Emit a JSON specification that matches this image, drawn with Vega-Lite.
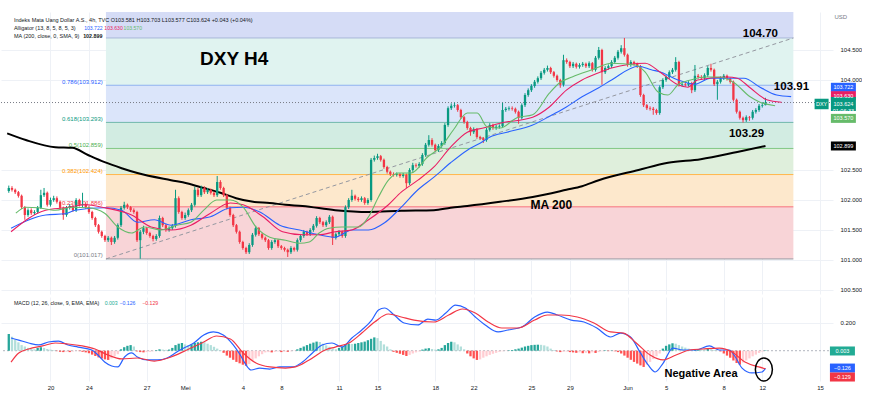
{
"$schema": "https://vega.github.io/schema/vega-lite/v6.json",
"background": "white",
"padding": {"left": 0, "top": 12, "right": 0, "bottom": 0},
"spacing": 3,
"bounds": "flush",
"config": {"view": {"stroke": null}, "font": "Liberation Sans"},
"datasets": {
"fib": [
{"lvl":"0","p":101.017,"next":101.886,"lab":"0(101.017)"},
{"lvl":"0.236","p":101.886,"next":102.424,"lab":"0.236(101.886)"},
{"lvl":"0.382","p":102.424,"next":102.859,"lab":"0.382(102.424)"},
{"lvl":"0.5","p":102.859,"next":103.293,"lab":"0.5(102.859)"},
{"lvl":"0.618","p":103.293,"next":103.912,"lab":"0.618(103.293)"},
{"lvl":"0.786","p":103.912,"next":104.7,"lab":"0.786(103.912)"},
{"lvl":"1","p":104.7,"next":106.976,"lab":""}
],
"trend": [{"i":17.3,"p":101.017},{"i":231.7,"p":104.7}],
"candles": [
{"i":-13,"o":102.15,"h":102.24,"l":102.12,"c":102.2,"m":0.12},
{"i":-12,"o":102.2,"h":102.23,"l":102.14,"c":102.17,"m":0.1},
{"i":-11,"o":102.17,"h":102.19,"l":102.1,"c":102.13,"m":0.08},
{"i":-10,"o":102.13,"h":102.15,"l":102.04,"c":102.07,"m":0.06},
{"i":-9,"o":102.07,"h":102.09,"l":101.85,"c":101.88,"m":0.04},
{"i":-8,"o":101.88,"h":101.9,"l":101.67,"c":101.75,"m":0.03},
{"i":-7,"o":101.75,"h":101.86,"l":101.72,"c":101.83,"m":0.02},
{"i":-6,"o":101.83,"h":101.86,"l":101.75,"c":101.78,"m":0.015},
{"i":-5,"o":101.78,"h":101.83,"l":101.75,"c":101.8,"m":0.01},
{"i":-4,"o":101.8,"h":101.9,"l":101.77,"c":101.87,"m":0.02},
{"i":-3,"o":101.87,"h":102.17,"l":101.85,"c":102.08,"m":0.025},
{"i":-2,"o":102.08,"h":102.2,"l":102.05,"c":102.12,"m":0.02},
{"i":-1,"o":102.12,"h":102.14,"l":101.89,"c":101.92,"m":0.012},
{"i":0,"o":101.92,"h":102.04,"l":101.89,"c":102.0,"m":0.008},
{"i":1,"o":102.0,"h":102.07,"l":101.97,"c":102.03,"m":0.004},
{"i":2,"o":102.03,"h":102.06,"l":101.94,"c":101.97,"m":-0.003},
{"i":3,"o":101.97,"h":101.99,"l":101.84,"c":101.87,"m":-0.008},
{"i":4,"o":101.87,"h":101.89,"l":101.67,"c":101.75,"m":-0.01},
{"i":5,"o":101.75,"h":101.9,"l":101.72,"c":101.87,"m":-0.008},
{"i":6,"o":101.87,"h":101.93,"l":101.84,"c":101.9,"m":-0.01},
{"i":7,"o":101.9,"h":101.92,"l":101.8,"c":101.83,"m":-0.006},
{"i":8,"o":101.83,"h":102.03,"l":101.8,"c":102.0,"m":-0.002},
{"i":9,"o":102.0,"h":102.02,"l":101.89,"c":101.92,"m":-0.003},
{"i":10,"o":101.92,"h":102.12,"l":101.88,"c":101.93,"m":-0.008},
{"i":11,"o":101.93,"h":101.96,"l":101.85,"c":101.88,"m":-0.012},
{"i":12,"o":101.88,"h":101.9,"l":101.77,"c":101.8,"m":-0.018},
{"i":13,"o":101.8,"h":101.82,"l":101.67,"c":101.7,"m":-0.028},
{"i":14,"o":101.7,"h":101.72,"l":101.55,"c":101.58,"m":-0.038},
{"i":15,"o":101.58,"h":101.6,"l":101.44,"c":101.47,"m":-0.048},
{"i":16,"o":101.47,"h":101.49,"l":101.37,"c":101.4,"m":-0.056},
{"i":17,"o":101.4,"h":101.42,"l":101.3,"c":101.33,"m":-0.062},
{"i":18,"o":101.33,"h":101.4,"l":101.3,"c":101.37,"m":-0.066},
{"i":19,"o":101.37,"h":101.39,"l":101.25,"c":101.3,"m":-0.055},
{"i":20,"o":101.3,"h":101.4,"l":101.27,"c":101.37,"m":-0.04},
{"i":21,"o":101.37,"h":101.61,"l":101.34,"c":101.58,"m":-0.025},
{"i":22,"o":101.58,"h":101.9,"l":101.55,"c":101.87,"m":0.01},
{"i":23,"o":101.87,"h":101.97,"l":101.84,"c":101.92,"m":0.025},
{"i":24,"o":101.92,"h":101.94,"l":101.85,"c":101.88,"m":0.035},
{"i":25,"o":101.88,"h":101.9,"l":101.8,"c":101.83,"m":0.04},
{"i":26,"o":101.83,"h":101.86,"l":101.77,"c":101.8,"m":0.03},
{"i":27,"o":101.8,"h":101.82,"l":101.3,"c":101.33,"m":-0.005},
{"i":28,"o":101.33,"h":101.5,"l":101.02,"c":101.47,"m":-0.01},
{"i":29,"o":101.47,"h":101.57,"l":101.43,"c":101.53,"m":-0.012},
{"i":30,"o":101.53,"h":101.55,"l":101.42,"c":101.45,"m":-0.01},
{"i":31,"o":101.45,"h":101.47,"l":101.37,"c":101.4,"m":-0.008},
{"i":32,"o":101.4,"h":101.42,"l":101.31,"c":101.35,"m":-0.004},
{"i":33,"o":101.35,"h":101.43,"l":101.32,"c":101.4,"m":0.004},
{"i":34,"o":101.4,"h":101.74,"l":101.37,"c":101.7,"m":0.01},
{"i":35,"o":101.7,"h":101.72,"l":101.55,"c":101.58,"m":0.008},
{"i":36,"o":101.58,"h":101.6,"l":101.47,"c":101.5,"m":0.006},
{"i":37,"o":101.5,"h":101.56,"l":101.47,"c":101.53,"m":0.008},
{"i":38,"o":101.53,"h":101.6,"l":101.5,"c":101.57,"m":0.02},
{"i":39,"o":101.57,"h":102.17,"l":101.54,"c":102.03,"m":0.04},
{"i":40,"o":102.03,"h":102.06,"l":101.77,"c":101.8,"m":0.05},
{"i":41,"o":101.8,"h":101.82,"l":101.67,"c":101.7,"m":0.055},
{"i":42,"o":101.7,"h":101.79,"l":101.67,"c":101.75,"m":0.045},
{"i":43,"o":101.75,"h":101.86,"l":101.72,"c":101.83,"m":0.04},
{"i":44,"o":101.83,"h":101.95,"l":101.8,"c":101.92,"m":0.045},
{"i":45,"o":101.92,"h":102.22,"l":101.89,"c":102.17,"m":0.055},
{"i":46,"o":102.17,"h":102.2,"l":102.05,"c":102.08,"m":0.06},
{"i":47,"o":102.08,"h":102.24,"l":102.05,"c":102.2,"m":0.064},
{"i":48,"o":102.2,"h":102.23,"l":102.1,"c":102.13,"m":0.06},
{"i":49,"o":102.13,"h":102.2,"l":102.1,"c":102.17,"m":0.05},
{"i":50,"o":102.17,"h":102.19,"l":102.09,"c":102.12,"m":0.04},
{"i":51,"o":102.12,"h":102.14,"l":102.05,"c":102.08,"m":0.028},
{"i":52,"o":102.08,"h":102.4,"l":102.05,"c":102.3,"m":0.015},
{"i":53,"o":102.3,"h":102.33,"l":102.17,"c":102.2,"m":0.005},
{"i":54,"o":102.2,"h":102.22,"l":102.05,"c":102.08,"m":-0.015},
{"i":55,"o":102.08,"h":102.1,"l":101.84,"c":101.87,"m":-0.035},
{"i":56,"o":101.87,"h":101.89,"l":101.72,"c":101.75,"m":-0.05},
{"i":57,"o":101.75,"h":101.77,"l":101.55,"c":101.58,"m":-0.065},
{"i":58,"o":101.58,"h":101.6,"l":101.44,"c":101.47,"m":-0.08},
{"i":59,"o":101.47,"h":101.49,"l":101.27,"c":101.3,"m":-0.09},
{"i":60,"o":101.3,"h":101.32,"l":101.17,"c":101.2,"m":-0.1},
{"i":61,"o":101.2,"h":101.22,"l":101.1,"c":101.13,"m":-0.108},
{"i":62,"o":101.13,"h":101.28,"l":101.1,"c":101.25,"m":-0.095},
{"i":63,"o":101.25,"h":101.45,"l":101.22,"c":101.42,"m":-0.075},
{"i":64,"o":101.42,"h":101.57,"l":101.39,"c":101.53,"m":-0.055},
{"i":65,"o":101.53,"h":101.55,"l":101.4,"c":101.43,"m":-0.04},
{"i":66,"o":101.43,"h":101.45,"l":101.34,"c":101.37,"m":-0.025},
{"i":67,"o":101.37,"h":101.39,"l":101.3,"c":101.33,"m":-0.012},
{"i":68,"o":101.33,"h":101.35,"l":101.17,"c":101.2,"m":-0.01},
{"i":69,"o":101.2,"h":101.33,"l":101.17,"c":101.3,"m":-0.012},
{"i":70,"o":101.3,"h":101.36,"l":101.27,"c":101.33,"m":-0.008},
{"i":71,"o":101.33,"h":101.35,"l":101.2,"c":101.23,"m":-0.005},
{"i":72,"o":101.23,"h":101.25,"l":101.17,"c":101.2,"m":-0.01},
{"i":73,"o":101.2,"h":101.22,"l":101.14,"c":101.17,"m":-0.006},
{"i":74,"o":101.17,"h":101.19,"l":101.05,"c":101.13,"m":-0.008},
{"i":75,"o":101.13,"h":101.23,"l":101.1,"c":101.2,"m":-0.004},
{"i":76,"o":101.2,"h":101.22,"l":101.14,"c":101.17,"m":-0.002},
{"i":77,"o":101.17,"h":101.36,"l":101.14,"c":101.33,"m":0.01},
{"i":78,"o":101.33,"h":101.43,"l":101.3,"c":101.4,"m":0.02},
{"i":79,"o":101.4,"h":101.5,"l":101.37,"c":101.47,"m":0.03},
{"i":80,"o":101.47,"h":101.49,"l":101.4,"c":101.43,"m":0.04},
{"i":81,"o":101.43,"h":101.53,"l":101.4,"c":101.5,"m":0.05},
{"i":82,"o":101.5,"h":101.6,"l":101.47,"c":101.57,"m":0.058},
{"i":83,"o":101.57,"h":101.73,"l":101.54,"c":101.7,"m":0.065},
{"i":84,"o":101.7,"h":101.72,"l":101.6,"c":101.63,"m":0.062},
{"i":85,"o":101.63,"h":101.65,"l":101.55,"c":101.58,"m":0.05},
{"i":86,"o":101.58,"h":101.66,"l":101.55,"c":101.63,"m":0.038},
{"i":87,"o":101.63,"h":101.75,"l":101.6,"c":101.72,"m":0.028},
{"i":88,"o":101.72,"h":101.74,"l":101.25,"c":101.37,"m":0.015},
{"i":89,"o":101.37,"h":101.46,"l":101.34,"c":101.43,"m":0.01},
{"i":90,"o":101.43,"h":101.5,"l":101.4,"c":101.47,"m":0.02},
{"i":91,"o":101.47,"h":101.49,"l":101.37,"c":101.4,"m":0.03},
{"i":92,"o":101.4,"h":101.91,"l":101.37,"c":101.88,"m":0.045},
{"i":93,"o":101.88,"h":102.03,"l":101.85,"c":102.0,"m":0.05},
{"i":94,"o":102.0,"h":102.17,"l":101.97,"c":102.07,"m":0.048},
{"i":95,"o":102.07,"h":102.09,"l":101.99,"c":102.02,"m":0.05},
{"i":96,"o":102.02,"h":102.05,"l":101.97,"c":102.0,"m":0.055},
{"i":97,"o":102.0,"h":102.06,"l":101.97,"c":102.03,"m":0.06},
{"i":98,"o":102.03,"h":102.05,"l":101.92,"c":101.95,"m":0.065},
{"i":99,"o":101.95,"h":102.03,"l":101.92,"c":102.0,"m":0.075},
{"i":100,"o":102.0,"h":102.7,"l":101.97,"c":102.67,"m":0.085},
{"i":101,"o":102.67,"h":102.74,"l":102.64,"c":102.7,"m":0.095},
{"i":102,"o":102.7,"h":102.77,"l":102.67,"c":102.73,"m":0.09},
{"i":103,"o":102.73,"h":102.75,"l":102.64,"c":102.67,"m":0.07},
{"i":104,"o":102.67,"h":102.69,"l":102.52,"c":102.55,"m":0.045},
{"i":105,"o":102.55,"h":102.57,"l":102.44,"c":102.47,"m":0.03},
{"i":106,"o":102.47,"h":102.49,"l":102.4,"c":102.43,"m":0.01},
{"i":107,"o":102.43,"h":102.46,"l":102.39,"c":102.42,"m":-0.008},
{"i":108,"o":102.42,"h":102.46,"l":102.39,"c":102.43,"m":-0.015},
{"i":109,"o":102.43,"h":102.45,"l":102.37,"c":102.4,"m":-0.022},
{"i":110,"o":102.4,"h":102.45,"l":102.37,"c":102.42,"m":-0.03},
{"i":111,"o":102.42,"h":102.44,"l":102.2,"c":102.28,"m":-0.038},
{"i":112,"o":102.28,"h":102.53,"l":102.25,"c":102.5,"m":-0.03},
{"i":113,"o":102.5,"h":102.62,"l":102.47,"c":102.58,"m":-0.02},
{"i":114,"o":102.58,"h":102.61,"l":102.54,"c":102.57,"m":-0.012},
{"i":115,"o":102.57,"h":102.63,"l":102.54,"c":102.6,"m":-0.005},
{"i":116,"o":102.6,"h":102.78,"l":102.57,"c":102.75,"m":0.008},
{"i":117,"o":102.75,"h":102.95,"l":102.72,"c":102.92,"m":0.015},
{"i":118,"o":102.92,"h":103.08,"l":102.89,"c":103.0,"m":0.018},
{"i":119,"o":103.0,"h":103.03,"l":102.89,"c":102.92,"m":0.012},
{"i":120,"o":102.92,"h":102.94,"l":102.8,"c":102.83,"m":0.008},
{"i":121,"o":102.83,"h":102.93,"l":102.8,"c":102.9,"m":0.01},
{"i":122,"o":102.9,"h":102.98,"l":102.87,"c":102.95,"m":0.02},
{"i":123,"o":102.95,"h":103.28,"l":102.92,"c":103.25,"m":0.04},
{"i":124,"o":103.25,"h":103.56,"l":103.22,"c":103.53,"m":0.055},
{"i":125,"o":103.53,"h":103.61,"l":103.5,"c":103.57,"m":0.064},
{"i":126,"o":103.57,"h":103.62,"l":103.54,"c":103.58,"m":0.06},
{"i":127,"o":103.58,"h":103.6,"l":103.47,"c":103.5,"m":0.045},
{"i":128,"o":103.5,"h":103.52,"l":103.35,"c":103.38,"m":0.03},
{"i":129,"o":103.38,"h":103.4,"l":103.27,"c":103.3,"m":0.01},
{"i":130,"o":103.3,"h":103.32,"l":103.17,"c":103.2,"m":-0.02},
{"i":131,"o":103.2,"h":103.22,"l":103.07,"c":103.13,"m":-0.04},
{"i":132,"o":103.13,"h":103.21,"l":103.1,"c":103.18,"m":-0.055},
{"i":133,"o":103.18,"h":103.2,"l":103.02,"c":103.05,"m":-0.066},
{"i":134,"o":103.05,"h":103.07,"l":103.0,"c":103.03,"m":-0.062},
{"i":135,"o":103.03,"h":103.05,"l":102.95,"c":103.0,"m":-0.05},
{"i":136,"o":103.0,"h":103.2,"l":102.97,"c":103.17,"m":-0.04},
{"i":137,"o":103.17,"h":103.28,"l":103.14,"c":103.25,"m":-0.03},
{"i":138,"o":103.25,"h":103.27,"l":103.17,"c":103.2,"m":-0.022},
{"i":139,"o":103.2,"h":103.25,"l":103.17,"c":103.22,"m":-0.015},
{"i":140,"o":103.22,"h":103.26,"l":103.19,"c":103.23,"m":-0.008},
{"i":141,"o":103.23,"h":103.62,"l":103.2,"c":103.5,"m":-0.004},
{"i":142,"o":103.5,"h":103.55,"l":103.47,"c":103.52,"m":-0.002},
{"i":143,"o":103.52,"h":103.56,"l":103.49,"c":103.53,"m":0.003},
{"i":144,"o":103.53,"h":103.56,"l":103.49,"c":103.52,"m":0.005},
{"i":145,"o":103.52,"h":103.54,"l":103.44,"c":103.47,"m":0.01},
{"i":146,"o":103.47,"h":103.49,"l":103.27,"c":103.37,"m":0.015},
{"i":147,"o":103.37,"h":103.61,"l":103.34,"c":103.58,"m":0.022},
{"i":148,"o":103.58,"h":103.78,"l":103.55,"c":103.75,"m":0.03},
{"i":149,"o":103.75,"h":103.86,"l":103.72,"c":103.83,"m":0.035},
{"i":150,"o":103.83,"h":103.93,"l":103.8,"c":103.9,"m":0.04},
{"i":151,"o":103.9,"h":104.0,"l":103.87,"c":103.97,"m":0.042},
{"i":152,"o":103.97,"h":104.06,"l":103.94,"c":104.03,"m":0.043},
{"i":153,"o":104.03,"h":104.15,"l":104.0,"c":104.12,"m":0.042},
{"i":154,"o":104.12,"h":104.2,"l":104.09,"c":104.17,"m":0.038},
{"i":155,"o":104.17,"h":104.24,"l":104.14,"c":104.2,"m":0.03},
{"i":156,"o":104.2,"h":104.22,"l":104.1,"c":104.13,"m":0.015},
{"i":157,"o":104.13,"h":104.15,"l":104.04,"c":104.07,"m":0.005},
{"i":158,"o":104.07,"h":104.09,"l":103.97,"c":104.0,"m":-0.005},
{"i":159,"o":104.0,"h":104.02,"l":103.87,"c":103.92,"m":-0.01},
{"i":160,"o":103.92,"h":104.42,"l":103.89,"c":104.33,"m":-0.008},
{"i":161,"o":104.33,"h":104.36,"l":104.27,"c":104.3,"m":-0.006},
{"i":162,"o":104.3,"h":104.32,"l":104.2,"c":104.23,"m":-0.01},
{"i":163,"o":104.23,"h":104.3,"l":104.2,"c":104.27,"m":-0.012},
{"i":164,"o":104.27,"h":104.29,"l":104.19,"c":104.22,"m":-0.015},
{"i":165,"o":104.22,"h":104.28,"l":104.19,"c":104.25,"m":-0.012},
{"i":166,"o":104.25,"h":104.3,"l":104.22,"c":104.27,"m":-0.018},
{"i":167,"o":104.27,"h":104.29,"l":104.2,"c":104.23,"m":-0.015},
{"i":168,"o":104.23,"h":104.31,"l":104.2,"c":104.28,"m":-0.019},
{"i":169,"o":104.28,"h":104.3,"l":104.14,"c":104.17,"m":-0.012},
{"i":170,"o":104.17,"h":104.4,"l":104.14,"c":104.37,"m":-0.016},
{"i":171,"o":104.37,"h":104.55,"l":104.34,"c":104.5,"m":-0.01},
{"i":172,"o":104.5,"h":104.52,"l":103.92,"c":104.13,"m":-0.004},
{"i":173,"o":104.13,"h":104.23,"l":104.1,"c":104.2,"m":0.003},
{"i":174,"o":104.2,"h":104.26,"l":104.17,"c":104.23,"m":-0.003},
{"i":175,"o":104.23,"h":104.33,"l":104.2,"c":104.3,"m":0.002},
{"i":176,"o":104.3,"h":104.4,"l":104.27,"c":104.37,"m":-0.004},
{"i":177,"o":104.37,"h":104.5,"l":104.34,"c":104.47,"m":-0.01},
{"i":178,"o":104.47,"h":104.58,"l":104.44,"c":104.53,"m":-0.02},
{"i":179,"o":104.53,"h":104.7,"l":104.39,"c":104.42,"m":-0.035},
{"i":180,"o":104.42,"h":104.44,"l":104.22,"c":104.25,"m":-0.05},
{"i":181,"o":104.25,"h":104.33,"l":104.22,"c":104.3,"m":-0.065},
{"i":182,"o":104.3,"h":104.32,"l":104.24,"c":104.27,"m":-0.08},
{"i":183,"o":104.27,"h":104.29,"l":104.2,"c":104.23,"m":-0.092},
{"i":184,"o":104.23,"h":104.25,"l":103.72,"c":103.75,"m":-0.105},
{"i":185,"o":103.75,"h":103.77,"l":103.55,"c":103.58,"m":-0.116},
{"i":186,"o":103.58,"h":103.6,"l":103.5,"c":103.53,"m":-0.1},
{"i":187,"o":103.53,"h":103.56,"l":103.49,"c":103.52,"m":-0.08},
{"i":188,"o":103.52,"h":103.55,"l":103.42,"c":103.5,"m":-0.06},
{"i":189,"o":103.5,"h":103.52,"l":103.42,"c":103.45,"m":-0.04},
{"i":190,"o":103.45,"h":103.91,"l":103.42,"c":103.88,"m":-0.02},
{"i":191,"o":103.88,"h":104.03,"l":103.85,"c":104.0,"m":0.015},
{"i":192,"o":104.0,"h":104.08,"l":103.97,"c":104.05,"m":0.035},
{"i":193,"o":104.05,"h":104.16,"l":104.02,"c":104.13,"m":0.045},
{"i":194,"o":104.13,"h":104.2,"l":104.1,"c":104.17,"m":0.053},
{"i":195,"o":104.17,"h":104.38,"l":104.14,"c":104.3,"m":0.05},
{"i":196,"o":104.3,"h":104.32,"l":103.89,"c":103.92,"m":0.04},
{"i":197,"o":103.92,"h":103.96,"l":103.89,"c":103.93,"m":0.03},
{"i":198,"o":103.93,"h":103.96,"l":103.89,"c":103.92,"m":0.022},
{"i":199,"o":103.92,"h":103.98,"l":103.89,"c":103.95,"m":0.015},
{"i":200,"o":103.95,"h":103.97,"l":103.78,"c":103.83,"m":0.008},
{"i":201,"o":103.83,"h":104.25,"l":103.8,"c":104.07,"m":0.01},
{"i":202,"o":104.07,"h":104.1,"l":104.02,"c":104.05,"m":0.012},
{"i":203,"o":104.05,"h":104.08,"l":104.0,"c":104.03,"m":0.01},
{"i":204,"o":104.03,"h":104.11,"l":104.0,"c":104.08,"m":0.008},
{"i":205,"o":104.08,"h":104.23,"l":104.05,"c":104.2,"m":0.012},
{"i":206,"o":104.2,"h":104.27,"l":104.14,"c":104.17,"m":0.01},
{"i":207,"o":104.17,"h":104.19,"l":103.9,"c":103.93,"m":0.005},
{"i":208,"o":103.93,"h":104.0,"l":103.67,"c":103.97,"m":0.002},
{"i":209,"o":103.97,"h":104.06,"l":103.94,"c":104.03,"m":-0.005},
{"i":210,"o":104.03,"h":104.1,"l":104.0,"c":104.07,"m":-0.02},
{"i":211,"o":104.07,"h":104.09,"l":103.99,"c":104.02,"m":-0.035},
{"i":212,"o":104.02,"h":104.04,"l":103.94,"c":103.97,"m":-0.05},
{"i":213,"o":103.97,"h":103.99,"l":103.64,"c":103.67,"m":-0.07},
{"i":214,"o":103.67,"h":103.69,"l":103.44,"c":103.47,"m":-0.088},
{"i":215,"o":103.47,"h":103.49,"l":103.34,"c":103.37,"m":-0.1},
{"i":216,"o":103.37,"h":103.39,"l":103.29,"c":103.33,"m":-0.085},
{"i":217,"o":103.33,"h":103.41,"l":103.3,"c":103.38,"m":-0.07},
{"i":218,"o":103.38,"h":103.4,"l":103.32,"c":103.37,"m":-0.055},
{"i":219,"o":103.37,"h":103.5,"l":103.34,"c":103.47,"m":-0.04},
{"i":220,"o":103.47,"h":103.53,"l":103.44,"c":103.5,"m":-0.028},
{"i":221,"o":103.5,"h":103.6,"l":103.47,"c":103.57,"m":-0.016},
{"i":222,"o":103.57,"h":103.63,"l":103.54,"c":103.581,"m":-0.006},
{"i":223,"o":103.581,"h":103.703,"l":103.577,"c":103.624,"m":0.003}
],
"jaw": [{"i":-12.3,"v":101.53},{"i":-1.5,"v":101.75},{"i":4.6,"v":101.77},{"i":7.7,"v":101.83},{"i":16.9,"v":101.87},{"i":22.2,"v":101.83},{"i":27.1,"v":101.63},{"i":32.4,"v":101.67},{"i":37.6,"v":101.58},{"i":43.8,"v":101.67},{"i":49.9,"v":101.72},{"i":56.1,"v":101.87},{"i":60.1,"v":101.88},{"i":65.3,"v":101.8},{"i":71.5,"v":101.58},{"i":77.7,"v":101.5},{"i":83.8,"v":101.42},{"i":88.8,"v":101.38},{"i":94,"v":101.5},{"i":99.2,"v":101.5},{"i":104.2,"v":101.62},{"i":109.4,"v":101.88},{"i":114.6,"v":102.17},{"i":119.6,"v":102.38},{"i":124.8,"v":102.62},{"i":130,"v":102.83},{"i":134.1,"v":102.95},{"i":137.1,"v":103.05},{"i":142.4,"v":103.13},{"i":150.4,"v":103.25},{"i":156.5,"v":103.42},{"i":160.9,"v":103.55},{"i":165.8,"v":103.72},{"i":171,"v":103.87},{"i":175,"v":104.0},{"i":183.4,"v":104.23},{"i":187.4,"v":104.17},{"i":190.4,"v":104.13},{"i":195.7,"v":104.0},{"i":200.9,"v":103.93},{"i":205.9,"v":104.03},{"i":216.3,"v":104.03},{"i":221.3,"v":103.88},{"i":226.5,"v":103.75},{"i":231,"v":103.722}],
"teeth": [{"i":-12.3,"v":101.47},{"i":-1.5,"v":101.83},{"i":4.6,"v":101.87},{"i":10.8,"v":101.92},{"i":16.9,"v":101.87},{"i":25.3,"v":101.75},{"i":31.4,"v":101.55},{"i":37.6,"v":101.5},{"i":43.8,"v":101.58},{"i":49.9,"v":101.78},{"i":56.1,"v":101.95},{"i":60.1,"v":101.92},{"i":66.3,"v":101.72},{"i":72.4,"v":101.47},{"i":78.6,"v":101.42},{"i":83.8,"v":101.42},{"i":88.8,"v":101.47},{"i":94,"v":101.5},{"i":99.2,"v":101.67},{"i":105.4,"v":101.92},{"i":109.4,"v":102.13},{"i":114.6,"v":102.33},{"i":119.6,"v":102.55},{"i":124.8,"v":102.88},{"i":130,"v":103.13},{"i":135,"v":103.2},{"i":140.2,"v":103.28},{"i":150.4,"v":103.38},{"i":155.6,"v":103.55},{"i":160.9,"v":103.83},{"i":165.8,"v":104.0},{"i":171,"v":104.12},{"i":175,"v":104.2},{"i":185.5,"v":104.28},{"i":190.4,"v":104.12},{"i":195.7,"v":103.92},{"i":198.8,"v":103.88},{"i":201.8,"v":104.0},{"i":211.1,"v":104.05},{"i":214.2,"v":104.03},{"i":218.2,"v":103.87},{"i":223.4,"v":103.67},{"i":228,"v":103.63}],
"lips": [{"i":-10.8,"v":101.78},{"i":-7.7,"v":101.88},{"i":-3.7,"v":101.87},{"i":1.5,"v":101.83},{"i":6.8,"v":101.88},{"i":11.7,"v":101.87},{"i":16.9,"v":101.78},{"i":21,"v":101.55},{"i":25.3,"v":101.45},{"i":29.3,"v":101.55},{"i":34.5,"v":101.5},{"i":39.4,"v":101.58},{"i":43.8,"v":101.63},{"i":47.8,"v":101.83},{"i":51.8,"v":102.0},{"i":56.1,"v":102.0},{"i":60.1,"v":101.88},{"i":64.1,"v":101.55},{"i":68.4,"v":101.38},{"i":73.3,"v":101.33},{"i":77.7,"v":101.28},{"i":80.7,"v":101.3},{"i":83.8,"v":101.45},{"i":86.9,"v":101.53},{"i":90.9,"v":101.55},{"i":96.1,"v":101.55},{"i":99.2,"v":101.72},{"i":102.3,"v":102.05},{"i":105.4,"v":102.33},{"i":108.5,"v":102.45},{"i":112.5,"v":102.45},{"i":117.7,"v":102.72},{"i":121.7,"v":102.88},{"i":125.7,"v":103.17},{"i":130,"v":103.45},{"i":133.1,"v":103.45},{"i":136.2,"v":103.22},{"i":140.2,"v":103.2},{"i":145.5,"v":103.37},{"i":150.4,"v":103.42},{"i":155.6,"v":103.78},{"i":158.7,"v":103.95},{"i":162.7,"v":104.05},{"i":168.9,"v":104.17},{"i":175,"v":104.28},{"i":182.4,"v":104.25},{"i":185.5,"v":104.13},{"i":189.5,"v":103.8},{"i":192.6,"v":103.75},{"i":195.7,"v":103.92},{"i":199.7,"v":104.0},{"i":204,"v":104.05},{"i":208.9,"v":104.05},{"i":213.3,"v":103.95},{"i":218.2,"v":103.72},{"i":221.3,"v":103.63},{"i":226,"v":103.57}],
"ma": [{"i":-13.5,"v":103.11},{"i":-7.7,"v":103.0},{"i":1.5,"v":102.88},{"i":6.8,"v":102.87},{"i":11.7,"v":102.75},{"i":16.9,"v":102.63},{"i":22.2,"v":102.53},{"i":27.1,"v":102.45},{"i":37.6,"v":102.33},{"i":42.5,"v":102.28},{"i":47.8,"v":102.2},{"i":53,"v":102.12},{"i":57.9,"v":102.03},{"i":63.2,"v":101.97},{"i":68.4,"v":101.95},{"i":73.3,"v":101.92},{"i":78.6,"v":101.9},{"i":88.8,"v":101.83},{"i":99.2,"v":101.8},{"i":109.4,"v":101.82},{"i":119.6,"v":101.83},{"i":124.8,"v":101.87},{"i":130,"v":101.9},{"i":140.2,"v":101.97},{"i":150.4,"v":102.05},{"i":160.9,"v":102.17},{"i":165.8,"v":102.23},{"i":171,"v":102.33},{"i":183.4,"v":102.5},{"i":192.6,"v":102.62},{"i":202.8,"v":102.68},{"i":214.2,"v":102.8},{"i":223,"v":102.899}],
"macd": [{"i":-12.3,"v":0.091},{"i":-9.9,"v":0.076},{"i":-6.8,"v":0.055},{"i":-3.7,"v":0.041},{"i":-0.6,"v":0.062},{"i":2.5,"v":0.069},{"i":5.5,"v":0.041},{"i":8.6,"v":0.026},{"i":12.9,"v":0.005},{"i":14.8,"v":-0.031},{"i":16.9,"v":-0.081},{"i":19.1,"v":-0.109},{"i":21,"v":-0.116},{"i":23.1,"v":-0.045},{"i":25.3,"v":-0.016},{"i":27.1,"v":-0.045},{"i":30.2,"v":-0.066},{"i":33.3,"v":-0.066},{"i":36.4,"v":-0.052},{"i":39.4,"v":-0.009},{"i":41.6,"v":0.019},{"i":44.7,"v":0.055},{"i":47.8,"v":0.112},{"i":50.8,"v":0.134},{"i":53.9,"v":0.112},{"i":57,"v":0.041},{"i":59.2,"v":-0.031},{"i":61,"v":-0.102},{"i":62.6,"v":-0.138},{"i":65.3,"v":-0.124},{"i":68.4,"v":-0.131},{"i":71.5,"v":-0.116},{"i":75.5,"v":-0.116},{"i":78.6,"v":-0.081},{"i":81.7,"v":-0.016},{"i":84.7,"v":0.041},{"i":87.8,"v":0.055},{"i":90.9,"v":0.026},{"i":94,"v":0.091},{"i":97.1,"v":0.148},{"i":100.2,"v":0.219},{"i":102.3,"v":0.291},{"i":104.2,"v":0.305},{"i":107.2,"v":0.255},{"i":110.3,"v":0.198},{"i":114.6,"v":0.184},{"i":117.7,"v":0.226},{"i":120.2,"v":0.219},{"i":123.3,"v":0.269},{"i":126.3,"v":0.326},{"i":129.4,"v":0.305},{"i":132.5,"v":0.241},{"i":135.6,"v":0.184},{"i":139.6,"v":0.134},{"i":142.7,"v":0.148},{"i":147,"v":0.169},{"i":151,"v":0.241},{"i":155,"v":0.276},{"i":158.1,"v":0.255},{"i":162.4,"v":0.219},{"i":166.4,"v":0.205},{"i":170.4,"v":0.162},{"i":174.7,"v":0.098},{"i":177.8,"v":0.126},{"i":180.9,"v":0.098},{"i":184,"v":-0.016},{"i":186.4,"v":-0.102},{"i":188.6,"v":-0.152},{"i":191.1,"v":-0.088},{"i":194.1,"v":0.019},{"i":197.2,"v":0.005},{"i":201.2,"v":0.005},{"i":205.5,"v":0.034},{"i":208.6,"v":0.005},{"i":211.7,"v":0.005},{"i":213.6,"v":-0.045},{"i":215.7,"v":-0.124},{"i":218.8,"v":-0.159},{"i":221.9,"v":-0.152},{"i":223,"v":-0.126}],
"sig": [{"i":-12.3,"v":-0.081},{"i":-9.9,"v":-0.016},{"i":-6.8,"v":0.012},{"i":-2.5,"v":0.034},{"i":1.5,"v":0.055},{"i":5.5,"v":0.048},{"i":9.9,"v":0.034},{"i":13.9,"v":0.012},{"i":17.9,"v":-0.031},{"i":22.2,"v":-0.059},{"i":27.1,"v":-0.052},{"i":32.4,"v":-0.074},{"i":37.6,"v":-0.045},{"i":42.5,"v":0.005},{"i":47.8,"v":0.062},{"i":51.8,"v":0.105},{"i":56.1,"v":0.084},{"i":60.1,"v":-0.016},{"i":64.1,"v":-0.088},{"i":68.4,"v":-0.116},{"i":73.3,"v":-0.124},{"i":76.4,"v":-0.116},{"i":80.7,"v":-0.066},{"i":85.7,"v":0.005},{"i":88.8,"v":0.026},{"i":93.1,"v":0.055},{"i":97.1,"v":0.126},{"i":101.1,"v":0.205},{"i":105.4,"v":0.262},{"i":109.4,"v":0.241},{"i":113.4,"v":0.219},{"i":119.6,"v":0.205},{"i":124.2,"v":0.255},{"i":128.5,"v":0.298},{"i":132.5,"v":0.269},{"i":136.5,"v":0.205},{"i":140.8,"v":0.162},{"i":145.8,"v":0.162},{"i":151,"v":0.219},{"i":155,"v":0.255},{"i":159.3,"v":0.255},{"i":164.3,"v":0.241},{"i":169.5,"v":0.198},{"i":174.7,"v":0.134},{"i":178.7,"v":0.126},{"i":182.7,"v":0.055},{"i":187,"v":-0.031},{"i":191.1,"v":-0.066},{"i":195.1,"v":-0.031},{"i":199.4,"v":0.005},{"i":203.4,"v":0.012},{"i":208.6,"v":0.019},{"i":212.6,"v":-0.009},{"i":216.6,"v":-0.081},{"i":220.9,"v":-0.116},{"i":223,"v":-0.129}],
"tags": [
{"t":"103.722","p":103.878,"k":"jaw"},
{"t":"103.630","p":103.738,"k":"teeth"},
{"t":"103.624","p":103.6,"k":"last"},
{"t":"01:06:33","p":103.49,"k":"timer"},
{"t":"103.570","p":103.36,"k":"lips"},
{"t":"102.899","p":102.9,"k":"ma"}
],
"mtags": [
{"t":"0.003","p":-0.002,"k":"hist"},
{"t":"−0.126","p":-0.124,"k":"macd"},
{"t":"−0.129","p":-0.188,"k":"sig"}
]
},
"vconcat": [
{
"width": 832, "height": 282,
"layer": [
{"data": {"name": "fib"}, "mark": {"type": "rect", "clip": true},
 "encoding": {
  "x": {"datum": 17.3, "type": "quantitative", "scale": {"domain": [-13.87, 242.5], "nice": false, "zero": false}},
  "x2": {"datum": 231.7},
  "y": {"field": "p", "type": "quantitative", "scale": {"domain": [100.433, 105.133], "nice": false, "zero": false}},
  "y2": {"field": "next"},
  "fill": {"field": "lvl", "type": "nominal", "legend": null,
     "scale": {"domain": ["0","0.236","0.382","0.5","0.618","0.786","1"], "range": ["#f8d4d7","#fde8cc","#dfefdc","#d2ece2","#dbe5fa","#e0f3f0","#d5dcf6"]}}
 }},
{"data": {"name": "fib"}, "mark": {"type": "rule", "strokeWidth": 1},
 "encoding": {
  "x": {"datum": 17.3, "type": "quantitative"},
  "x2": {"datum": 231.7},
  "y": {"field": "p", "type": "quantitative"},
  "stroke": {"field": "lvl", "type": "nominal", "legend": null,
     "scale": {"domain": ["0","0.236","0.382","0.5","0.618","0.786","1"], "range": ["#9598a1","#f7707b","#ffb74d","#81c784","#6fb8aa","#8fb0f0","#a9b8d8"]}}
 }},
{"data": {"name": "fib"}, "mark": {"type": "text", "align": "right", "baseline": "bottom", "fontSize": 6, "dy": -0.5},
 "encoding": {
  "x": {"datum": 16.3, "type": "quantitative"},
  "y": {"field": "p", "type": "quantitative"},
  "text": {"field": "lab"},
  "color": {"field": "lvl", "type": "nominal", "legend": null,
     "scale": {"domain": ["0","0.236","0.382","0.5","0.618","0.786","1"], "range": ["#787b86","#f23645","#ff9800","#4caf50","#089981","#2962ff","#787b86"]}}
 }},
{"data": {"name": "trend"}, "mark": {"type": "line", "strokeDash": [4,3], "color": "#9598a1", "strokeWidth": 1},
 "encoding": {"x": {"field": "i", "type": "quantitative"}, "y": {"field": "p", "type": "quantitative"}}},
{"data": {"values": [{}]}, "mark": {"type": "rule", "strokeDash": [1,2], "color": "#787b86", "strokeWidth": 1},
 "encoding": {"y": {"datum": 103.624, "type": "quantitative"}}},
{"data": {"name": "ma"}, "mark": {"type": "line", "color": "#000000", "strokeWidth": 2, "interpolate": "monotone"},
 "encoding": {"x": {"field": "i", "type": "quantitative"}, "y": {"field": "v", "type": "quantitative"}}},
{"data": {"name": "candles"}, "mark": {"type": "rule", "strokeWidth": 1},
 "encoding": {
  "x": {"field": "i", "type": "quantitative", "scale": {"domain": [-13.87, 242.5], "nice": false, "zero": false},
        "axis": {"values": [0,12,30,42,60,72,90,102,120,132,150,162,180,192,210,222,240], "labels": false, "ticks": false, "domain": false, "grid": true, "gridColor": "#eef1f6", "title": null}},
  "y": {"field": "l", "type": "quantitative", "scale": {"domain": [100.433, 105.133], "nice": false, "zero": false},
        "axis": {"orient": "right", "values": [100.5,101,101.5,102,102.5,104,104.5], "format": ".3f", "labelFontSize": 6, "labelColor": "#131722", "ticks": false, "domain": false, "grid": true, "gridColor": "#eef1f6", "labelPadding": 7, "title": null}},
  "y2": {"field": "h"},
  "color": {"condition": {"test": "datum.c >= datum.o", "value": "#089981"}, "value": "#f23645"}
 }},
{"data": {"name": "candles"}, "mark": {"type": "bar", "size": 2.3},
 "encoding": {
  "x": {"field": "i", "type": "quantitative"},
  "y": {"field": "o", "type": "quantitative"},
  "y2": {"field": "c"},
  "color": {"condition": {"test": "datum.c >= datum.o", "value": "#089981"}, "value": "#f23645"}
 }},
{"data": {"name": "jaw"}, "mark": {"type": "line", "color": "#2962ff", "strokeWidth": 1.1, "interpolate": "monotone"},
 "encoding": {"x": {"field": "i", "type": "quantitative"}, "y": {"field": "v", "type": "quantitative"}}},
{"data": {"name": "teeth"}, "mark": {"type": "line", "color": "#e91e63", "strokeWidth": 1.1, "interpolate": "monotone"},
 "encoding": {"x": {"field": "i", "type": "quantitative"}, "y": {"field": "v", "type": "quantitative"}}},
{"data": {"name": "lips"}, "mark": {"type": "line", "color": "#66bb6a", "strokeWidth": 1.1, "interpolate": "monotone"},
 "encoding": {"x": {"field": "i", "type": "quantitative"}, "y": {"field": "v", "type": "quantitative"}}},
{"data": {"values": [{}]}, "mark": {"type": "text", "fontSize": 19, "fontWeight": "bold", "color": "#000000"},
 "encoding": {"x": {"datum": 57.3, "type": "quantitative"}, "y": {"datum": 104.345, "type": "quantitative"}, "text": {"value": "DXY H4"}}},
{"data": {"values": [{}]}, "mark": {"type": "text", "fontSize": 11.5, "fontWeight": "bold", "color": "#000000"},
 "encoding": {"x": {"datum": 221.4, "type": "quantitative"}, "y": {"datum": 104.767, "type": "quantitative"}, "text": {"value": "104.70"}}},
{"data": {"values": [{}]}, "mark": {"type": "text", "fontSize": 11.5, "fontWeight": "bold", "color": "#000000"},
 "encoding": {"x": {"datum": 231.1, "type": "quantitative"}, "y": {"datum": 103.883, "type": "quantitative"}, "text": {"value": "103.91"}}},
{"data": {"values": [{}]}, "mark": {"type": "text", "fontSize": 11.5, "fontWeight": "bold", "color": "#000000"},
 "encoding": {"x": {"datum": 217.1, "type": "quantitative"}, "y": {"datum": 103.1, "type": "quantitative"}, "text": {"value": "103.29"}}},
{"data": {"values": [{}]}, "mark": {"type": "text", "fontSize": 12, "fontWeight": "bold", "color": "#000000"},
 "encoding": {"x": {"datum": 156.2, "type": "quantitative"}, "y": {"datum": 101.917, "type": "quantitative"}, "text": {"value": "MA 200"}}},
{"data": {"values": [{}]}, "mark": {"type": "text", "fontSize": 5.5, "align": "left", "color": "#131722"},
 "encoding": {"x": {"datum": -11.4, "type": "quantitative"}, "y": {"datum": 105.0, "type": "quantitative"}, "text": {"value": "Indeks Mata Uang Dollar A.S., 4h, TVC  O103.581  H103.703  L103.577  C103.624  +0.043 (+0.04%)"}}},
{"data": {"values": [{}]}, "mark": {"type": "text", "fontSize": 5.5, "align": "left", "color": "#131722"},
 "encoding": {"x": {"datum": -11.4, "type": "quantitative"}, "y": {"datum": 104.86, "type": "quantitative"}, "text": {"value": "Alligator (13, 8, 5, 8, 5, 3)"}}},
{"data": {"values": [{}]}, "mark": {"type": "text", "fontSize": 5.1, "align": "left", "color": "#2962ff"},
 "encoding": {"x": {"datum": 10.5, "type": "quantitative"}, "y": {"datum": 104.86, "type": "quantitative"}, "text": {"value": "103.722"}}},
{"data": {"values": [{}]}, "mark": {"type": "text", "fontSize": 5.1, "align": "left", "color": "#e91e63"},
 "encoding": {"x": {"datum": 16.8, "type": "quantitative"}, "y": {"datum": 104.86, "type": "quantitative"}, "text": {"value": "103.630"}}},
{"data": {"values": [{}]}, "mark": {"type": "text", "fontSize": 5.1, "align": "left", "color": "#66bb6a"},
 "encoding": {"x": {"datum": 22.8, "type": "quantitative"}, "y": {"datum": 104.86, "type": "quantitative"}, "text": {"value": "103.570"}}},
{"data": {"values": [{}]}, "mark": {"type": "text", "fontSize": 5.5, "align": "left", "color": "#131722"},
 "encoding": {"x": {"datum": -11.4, "type": "quantitative"}, "y": {"datum": 104.73, "type": "quantitative"}, "text": {"value": "MA (200, close, 0, SMA, 9)"}}},
{"data": {"values": [{}]}, "mark": {"type": "text", "fontSize": 5.3, "align": "left", "fontWeight": "bold", "color": "#131722"},
 "encoding": {"x": {"datum": 10.2, "type": "quantitative"}, "y": {"datum": 104.73, "type": "quantitative"}, "text": {"value": "102.899"}}},
{"data": {"values": [{}]}, "mark": {"type": "text", "fontSize": 6, "align": "center", "color": "#787b86"},
 "encoding": {"x": {"datum": 246.5, "type": "quantitative"}, "y": {"datum": 105.05, "type": "quantitative"}, "text": {"value": "USD"}}},
{"data": {"values": [{}]}, "mark": {"type": "point", "filled": true, "opacity": 1, "shape": "M-1,-0.75L1,-0.75L1,0.75L-1,0.75Z", "size": 196, "color": "#089981"},
 "encoding": {"x": {"datum": 240.5, "type": "quantitative"}, "y": {"datum": 103.6, "type": "quantitative"}}},
{"data": {"values": [{}]}, "mark": {"type": "text", "fontSize": 5.5, "align": "center", "color": "#ffffff"},
 "encoding": {"x": {"datum": 240.5, "type": "quantitative"}, "y": {"datum": 103.6, "type": "quantitative"}, "text": {"value": "DXY"}}},
{"data": {"name": "tags"}, "transform": [{"filter": "datum.k !== 'timer'"}],
 "mark": {"type": "point", "filled": true, "opacity": 1, "size": 625},
 "encoding": {
  "x": {"datum": 247.3, "type": "quantitative"},
  "y": {"field": "p", "type": "quantitative"},
  "shape": {"condition": {"test": "datum.k === 'last'", "value": "M-1,-0.56L1,-0.56L1,0.56L-1,0.56Z"}, "value": "M-1,-0.36L1,-0.36L1,0.36L-1,0.36Z"},
  "fill": {"condition": [
     {"test": "datum.k === 'jaw'", "value": "#2962ff"},
     {"test": "datum.k === 'teeth'", "value": "#e91e63"},
     {"test": "datum.k === 'last'", "value": "#089981"},
     {"test": "datum.k === 'lips'", "value": "#66bb6a"}],
   "value": "#000000"}
 }},
{"data": {"name": "tags"}, "mark": {"type": "text", "fontSize": 5.5, "align": "center", "color": "#ffffff"},
 "encoding": {
  "x": {"datum": 247.3, "type": "quantitative"},
  "y": {"field": "p", "type": "quantitative"},
  "text": {"field": "t"}
 }}
]
},
{
"width": 832, "height": 84,
"layer": [
{"data": {"values": [{}]}, "mark": {"type": "rule", "strokeDash": [2,2], "color": "#b2b5be", "strokeWidth": 1},
 "encoding": {
  "y": {"datum": 0, "type": "quantitative", "scale": {"domain": [-0.2164, 0.3836], "nice": false, "zero": false}}
 }},
{"data": {"name": "candles"},
 "transform": [{"window": [{"op": "lag", "field": "m", "as": "pm"}], "sort": [{"field": "i", "order": "ascending"}]}],
 "mark": {"type": "bar", "size": 2.3},
 "encoding": {
  "x": {"field": "i", "type": "quantitative", "scale": {"domain": [-13.87, 242.5], "nice": false, "zero": false},
        "axis": {"values": [0,12,30,42,60,72,90,102,120,132,150,162,180,192,210,222,240],
                 "labelExpr": "['20','24','27','Mei','4','8','11','15','18','22','25','29','Jun','5','8','12','15'][indexof([0,12,30,42,60,72,90,102,120,132,150,162,180,192,210,222,240], datum.value)]",
                 "labelFontSize": 6, "labelColor": "#131722", "ticks": false, "domain": false, "grid": true, "gridColor": "#eef1f6", "labelPadding": 3, "labelOverlap": false, "labelFlush": false, "title": null}},
  "y": {"field": "m", "type": "quantitative", "scale": {"domain": [-0.2164, 0.3836], "nice": false, "zero": false},
        "axis": {"orient": "right", "values": [0.2], "format": ".3f", "labelFontSize": 6, "labelColor": "#131722", "ticks": false, "domain": false, "grid": true, "gridColor": "#eef1f6", "labelPadding": 7, "title": null}},
  "y2": {"datum": 0},
  "color": {"condition": [
     {"test": "datum.m >= 0 && (datum.pm == null || datum.m >= datum.pm)", "value": "#26a69a"},
     {"test": "datum.m >= 0", "value": "#b2dfdb"},
     {"test": "datum.pm == null || datum.m <= datum.pm", "value": "#ff5252"}],
   "value": "#ffcdd2"}
 }},
{"data": {"name": "macd"}, "mark": {"type": "line", "color": "#2962ff", "strokeWidth": 1.2, "interpolate": "monotone"},
 "encoding": {"x": {"field": "i", "type": "quantitative"}, "y": {"field": "v", "type": "quantitative"}}},
{"data": {"name": "sig"}, "mark": {"type": "line", "color": "#f23645", "strokeWidth": 1.2, "interpolate": "monotone"},
 "encoding": {"x": {"field": "i", "type": "quantitative"}, "y": {"field": "v", "type": "quantitative"}}},
{"data": {"values": [{}]}, "mark": {"type": "text", "fontSize": 5.3, "align": "left", "color": "#131722"},
 "encoding": {"x": {"datum": -11.4, "type": "quantitative"}, "y": {"datum": 0.341, "type": "quantitative"}, "text": {"value": "MACD (12, 26, close, 9, EMA, EMA)"}}},
{"data": {"values": [{}]}, "mark": {"type": "text", "fontSize": 5.2, "align": "left", "color": "#22ab94"},
 "encoding": {"x": {"datum": 16.9, "type": "quantitative"}, "y": {"datum": 0.341, "type": "quantitative"}, "text": {"value": "0.003"}}},
{"data": {"values": [{}]}, "mark": {"type": "text", "fontSize": 5.2, "align": "left", "color": "#2962ff"},
 "encoding": {"x": {"datum": 21.5, "type": "quantitative"}, "y": {"datum": 0.341, "type": "quantitative"}, "text": {"value": "−0.126"}}},
{"data": {"values": [{}]}, "mark": {"type": "text", "fontSize": 5.2, "align": "left", "color": "#f23645"},
 "encoding": {"x": {"datum": 28.6, "type": "quantitative"}, "y": {"datum": 0.341, "type": "quantitative"}, "text": {"value": "−0.129"}}},
{"data": {"values": [{}]}, "mark": {"type": "text", "fontSize": 11, "fontWeight": "bold", "color": "#000000"},
 "encoding": {"x": {"datum": 202.9, "type": "quantitative"}, "y": {"datum": -0.166, "type": "quantitative"}, "text": {"value": "Negative Area"}}},
{"data": {"values": [{}]}, "mark": {"type": "point", "filled": false, "shape": "M0,-1A0.74,1 0 1,1 0,1A0.74,1 0 1,1 0,-1Z", "size": 529, "color": "#000000", "strokeWidth": 1.5, "opacity": 1},
 "encoding": {"x": {"datum": 222.5, "type": "quantitative"}, "y": {"datum": -0.134, "type": "quantitative"}}},
{"data": {"name": "mtags"}, "mark": {"type": "point", "filled": true, "opacity": 1, "size": 625, "shape": "M-1,-0.36L1,-0.36L1,0.36L-1,0.36Z"},
 "encoding": {
  "x": {"datum": 247.0, "type": "quantitative"},
  "y": {"field": "p", "type": "quantitative"},
  "fill": {"condition": [
     {"test": "datum.k === 'hist'", "value": "#22ab94"},
     {"test": "datum.k === 'macd'", "value": "#2962ff"}],
   "value": "#f23645"}
 }},
{"data": {"name": "mtags"}, "mark": {"type": "text", "fontSize": 5.5, "align": "center", "color": "#ffffff"},
 "encoding": {
  "x": {"datum": 247.0, "type": "quantitative"},
  "y": {"field": "p", "type": "quantitative"},
  "text": {"field": "t"}
 }}
]
}
]
}
